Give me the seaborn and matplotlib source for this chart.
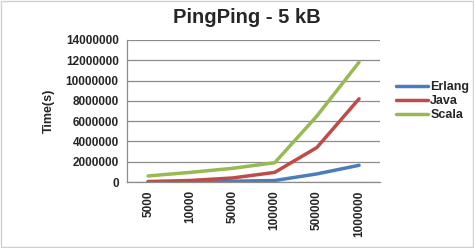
import matplotlib
matplotlib.use("Agg")
import matplotlib.pyplot as plt
import seaborn as sns
import pandas as pd

categories = ["5000", "10000", "50000", "100000", "500000", "1000000"]
erlang = [10000, 30000, 80000, 150000, 800000, 1650000]
java = [50000, 150000, 400000, 950000, 3400000, 8200000]
scala = [600000, 950000, 1350000, 1900000, 6500000, 11800000]
series_names = ["Erlang", "Java", "Scala"]
colors = ["#4a7ebb", "#be4b48", "#98b954"]

rows = []
for name, vals in zip(series_names, [erlang, java, scala]):
    for i, (c, v) in enumerate(zip(categories, vals)):
        rows.append({"idx": i, "cat": c, "series": name, "value": v})
df = pd.DataFrame(rows)

sns.set_style("white")
plt.rcParams['font.family'] = ['Liberation Sans', 'DejaVu Sans']

fig = plt.figure(figsize=(4.74, 2.48), dpi=100)
ax = fig.add_axes([0.268, 0.266, 0.534, 0.573])
sns.lineplot(data=df, x="idx", y="value", hue="series", palette=colors,
             linewidth=2.5, ax=ax, legend=True)

ax.set_xlim(-0.5, 5.5)
ax.set_ylim(0, 14000000)
ax.set_yticks(range(0, 14000001, 2000000))
ax.set_yticklabels([str(v) for v in range(0, 14000001, 2000000)],
                   fontsize=8.5, fontweight="bold")
ax.set_xticks(range(len(categories)))
ax.set_xticklabels(categories, rotation=90, fontsize=8.5, fontweight="bold")
ax.yaxis.grid(True, color="#8c8c8c", linewidth=0.9)
ax.set_axisbelow(True)
for s in ["top", "right"]:
    ax.spines[s].set_visible(False)
for s in ["left", "bottom"]:
    ax.spines[s].set_color("#8c8c8c")
    ax.spines[s].set_linewidth(0.9)
ax.tick_params(axis="both", length=0, pad=6)
ax.set_xlabel("")
ax.set_ylabel("Time(s)", fontsize=9, fontweight="bold", labelpad=8)

ax.set_title("PingPing - 5 kB", fontsize=14.5, fontweight="bold", pad=12, x=0.475)

leg = ax.legend(loc="center left", bbox_to_anchor=(1.02, 0.57), frameon=False,
                handlelength=2.5, handletextpad=0.2, labelspacing=0.15,
                prop={"size": 9, "weight": "bold"})

fig.patches.append(plt.Rectangle((0.003, 0.005), 0.994, 0.99, transform=fig.transFigure,
                                 fill=False, edgecolor="#d0d0d0", linewidth=1))
fig.savefig("out.png", dpi=100)
